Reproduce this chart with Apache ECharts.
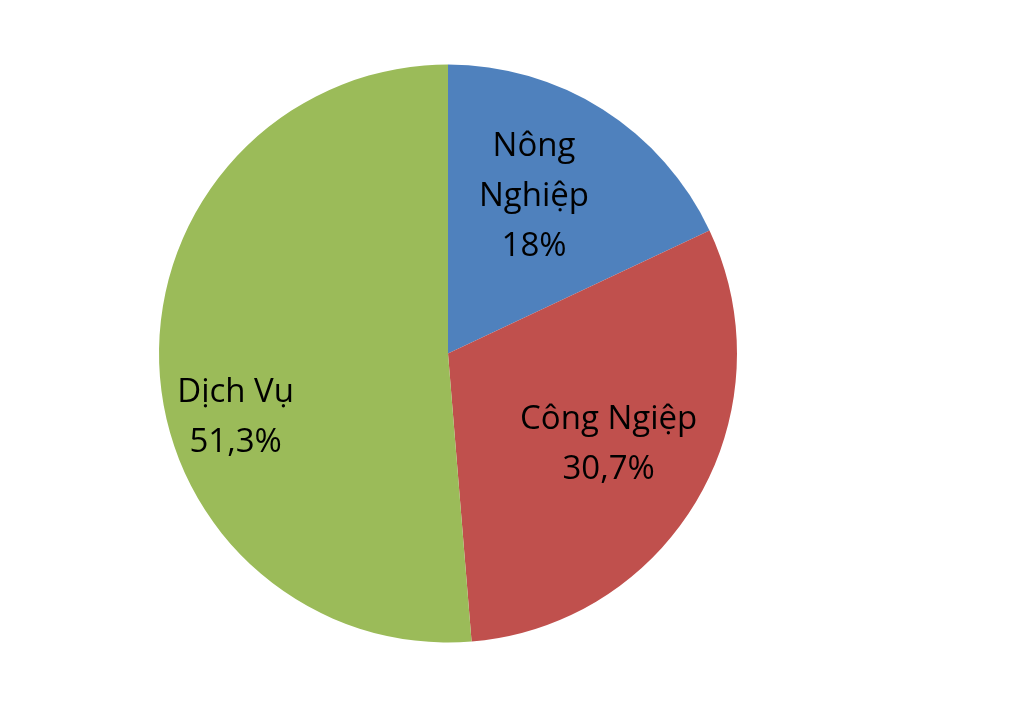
<!DOCTYPE html>
<html><head><meta charset="utf-8">
<script src="https://cdn.jsdelivr.net/npm/echarts@6/dist/echarts.min.js"></script>
<style>html,body{margin:0;padding:0;background:#fff}#c{width:1024px;height:705px}</style>
</head><body><div id="c"></div>
<script>
const names = ['Nông\nNghiệp', 'Công Ngiệp', 'Dịch Vụ'];
const labelTexts = ['18%', '30,7%', '51,3%'];
const values = [18, 30.7, 51.3];
const colors = ['#4F81BD', '#C0504D', '#9BBB59'];
const labelOffsets = [[7, -32], [33, 17], [-65, 58]];

const chart = echarts.init(document.getElementById('c'));
chart.setOption({
  animation: false,
  series: [{
    type: 'pie',
    center: [448, 353.5],
    radius: [0, 289],
    startAngle: 90,
    clockwise: true,
    silent: true,
    itemStyle: { borderWidth: 0 },
    label: {
      show: true,
      position: 'inside',
      color: '#000',
      fontFamily: 'Open Sans',
      fontSize: 33,
      lineHeight: 50,
      align: 'center'
    },
    labelLine: { show: false },
    data: values.map((v, i) => ({
      value: v,
      name: names[i],
      itemStyle: { color: colors[i] },
      label: { formatter: names[i] + '\n' + labelTexts[i], offset: labelOffsets[i] }
    }))
  }]
});
</script></body></html>
